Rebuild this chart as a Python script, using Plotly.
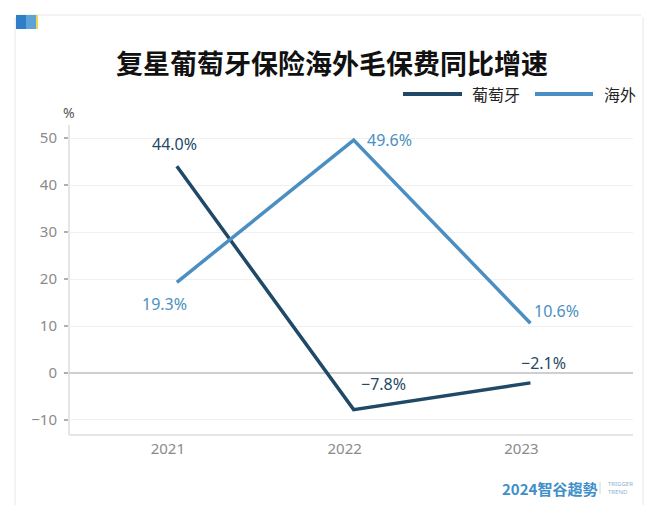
import plotly.graph_objects as go

years = ["2021", "2022", "2023"]
portugal = [44.0, -7.8, -2.1]
overseas = [19.3, 49.6, 10.6]
portugal_labels = ["44.0%", "−7.8%", "−2.1%"]
overseas_labels = ["19.3%", "49.6%", "10.6%"]
y_ticks = [-10, 0, 10, 20, 30, 40, 50]

DARK = "#1f4966"
LIGHT = "#4b8fc2"
OFF = 8  # page body margin of the html page
W, H = 660 - OFF, 524 - OFF
L, R, T, B = 69, 633, 125, 435  # plot area in screen pixels


def px(x):
    return (x - L) / (R - L)


def py(y):
    return (B - y) / (B - T)


fig = go.Figure()
fig.add_trace(go.Scatter(x=years, y=portugal, mode="lines", name="葡萄牙",
                         line=dict(color=DARK, width=3.5), showlegend=False))
fig.add_trace(go.Scatter(x=years, y=overseas, mode="lines", name="海外",
                         line=dict(color=LIGHT, width=3.5), showlegend=False))

ann = []
p_shifts = [(-2, 22), (30, 26), (13, 20)]
o_shifts = [(-12, -22), (36, 0), (26, 12)]
for i in range(len(years)):
    ann.append(dict(x=i, y=portugal[i], xref="x", yref="y", text=portugal_labels[i],
                    showarrow=False, xshift=p_shifts[i][0], yshift=p_shifts[i][1],
                    xanchor="center", yanchor="middle",
                    font=dict(size=16, color=DARK, family="Noto Sans")))
    ann.append(dict(x=i, y=overseas[i], xref="x", yref="y", text=overseas_labels[i],
                    showarrow=False, xshift=o_shifts[i][0], yshift=o_shifts[i][1],
                    xanchor="center", yanchor="middle",
                    font=dict(size=16, color=LIGHT, family="Noto Sans")))


def pann(x, y, text, size, color, xanchor="center", family="Noto Sans CJK SC", **kw):
    ann.append(dict(x=px(x), y=py(y), xref="paper", yref="paper", text=text, showarrow=False,
                    xanchor=xanchor, yanchor="middle",
                    font=dict(size=size, color=color, family=family), **kw))


pann(332, 62, "<b>复星葡萄牙保险海外毛保费同比增速</b>", 27, "#111111")
pann(470, 94, "葡萄牙", 16, "#222222", xanchor="left")
pann(602, 94, "海外", 16, "#222222", xanchor="left")
pann(69, 113, "%", 14, "#555555", family="Noto Sans")
pann(599, 488, "<b>2024智谷趨勢</b>", 15, "#3f8fc9", xanchor="right")
pann(606, 488, "TRIGGER<br>TREND", 6, "#8fb3cf", xanchor="left", family="Noto Sans", align="left")


def pline(x0, y0, x1, y1, color, width, **kw):
    return dict(type="line", xref="paper", yref="paper", x0=px(x0), x1=px(x1), y0=py(y0), y1=py(y1),
                line=dict(color=color, width=width), **kw)


def prect(x0, y0, x1, y1, color):
    return dict(type="rect", xref="paper", yref="paper", x0=px(x0), x1=px(x1), y0=py(y0), y1=py(y1),
                fillcolor=color, line=dict(width=0))


shapes = [
    pline(15, 17, 15, 505, "#e6e6e6", 1),
    pline(17, 15, 641, 15, "#e6e6e6", 1),
    pline(643, 17, 643, 505, "#e6e6e6", 1),
    prect(16, 15, 26, 29, "#2f7fc8"),
    prect(26, 15, 36, 29, "#5ea3d8"),
    prect(36, 15, 38, 29, "#f2d64b"),
    pline(403, 94, 462, 94, DARK, 4),
    pline(535, 94, 593, 94, LIGHT, 4),
    pline(600, 482, 600, 494, "#c8d8e6", 1),
    dict(type="line", xref="paper", yref="paper", x0=0, x1=0, y0=0, y1=1,
         line=dict(color="#dddddd", width=1.5), layer="below"),
    dict(type="line", xref="paper", yref="paper", x0=0, x1=1, y0=0, y1=0,
         line=dict(color="#dddddd", width=1.5), layer="below"),
]

fig.update_layout(
    width=W, height=H,
    margin=dict(l=L - OFF, r=660 - R, t=T - OFF, b=524 - B, autoexpand=False),
    paper_bgcolor="white", plot_bgcolor="white",
    annotations=ann, shapes=shapes,
    font=dict(family="Noto Sans", color="#888888"),
)
fig.update_xaxes(type="category", range=[-0.61, 2.58], showgrid=False, showline=False,
                 tickfont=dict(size=15, color="#8a8a8a"), ticks="", ticklabelstandoff=3,
                 ticklabelshift=-9, fixedrange=True)
fig.update_yaxes(range=[-13.2, 52.8], tickvals=y_ticks, showgrid=True, gridcolor="#f0f0f0",
                 gridwidth=1, zeroline=True, zerolinecolor="#cfcfcf", zerolinewidth=1.5,
                 showline=False, ticks="outside", ticklen=4, tickwidth=2, tickcolor="#b0b0b0",
                 ticklabelstandoff=4, tickfont=dict(size=15, color="#8a8a8a"))

fig.write_html("out.html")
